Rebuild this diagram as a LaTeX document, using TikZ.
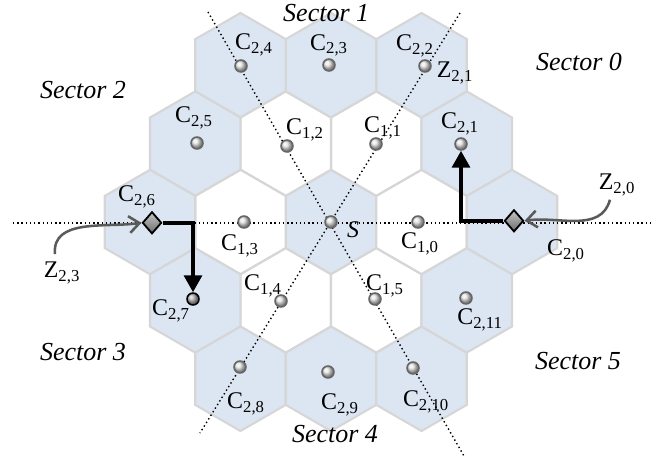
\documentclass[tikz,border=0pt]{standalone}
\usepackage{fontspec}
\setmainfont{Liberation Serif}
\usetikzlibrary{arrows.meta,positioning,shapes.geometric,calc}
\definecolor{hexbg}{HTML}{DCE6F2}
\definecolor{hexbd}{HTML}{D6D6D6}
\definecolor{dotbd}{HTML}{666666}
\definecolor{pointer}{HTML}{5A5A5A}
\newcommand{\cellname}[2]{C\textsubscript{#1,#2}}
\newcommand{\zonename}[2]{Z\textsubscript{#1,#2}}
\tikzset{
  cellhex/.style={regular polygon,regular polygon sides=6,shape border rotate=30,
                  minimum size=2.61cm,inner sep=0pt,draw=hexbd,fill=hexbg,
                  line width=1.5pt},
  innerhex/.style={cellhex,fill=white},
  userdot/.style={circle,minimum size=0.3cm,inner sep=0pt,draw=dotbd,
                  line width=1.1pt,ball color=gray!20},
  zonemark/.style={diamond,minimum width=0.48cm,minimum height=0.55cm,
                   inner sep=0pt,draw=black,line width=1.3pt,
                   top color=gray!45,bottom color=gray!85!black},
  sectorlab/.style={font=\fontsize{18.5}{20}\selectfont\itshape,inner sep=1pt},
  celllab/.style={font=\fontsize{17}{18}\selectfont,inner sep=0.5pt},
  sectorline/.style={dotted,line width=1pt},
  handover/.style={-{Triangle[length=4.2mm,width=4.4mm]},line width=2.8pt},
  pointarrow/.style={-{Straight Barb[length=2.6mm,width=4.2mm]},line width=1.8pt,
                     pointer},
}
\begin{document}
\begin{tikzpicture}
  \useasboundingbox (-8.275,5.55) rectangle (8.375,-5.9);

  % ---- Hexagonal cells ----
  \node[cellhex]  (h0)   at (0,0) {};
  \node[innerhex] (h10)  at (2.263,0) {};
  \node[innerhex] (h11)  at (1.131,1.96) {};
  \node[innerhex] (h12)  at (-1.131,1.96) {};
  \node[innerhex] (h13)  at (-2.263,0) {};
  \node[innerhex] (h14)  at (-1.131,-1.96) {};
  \node[innerhex] (h15)  at (1.131,-1.96) {};
  \node[cellhex]  (h20)  at (4.525,0) {};
  \node[cellhex]  (h21)  at (3.394,1.96) {};
  \node[cellhex]  (h22)  at (2.263,3.92) {};
  \node[cellhex]  (h23)  at (0,3.92) {};
  \node[cellhex]  (h24)  at (-2.263,3.92) {};
  \node[cellhex]  (h25)  at (-3.394,1.96) {};
  \node[cellhex]  (h26)  at (-4.525,0) {};
  \node[cellhex]  (h27)  at (-3.394,-1.96) {};
  \node[cellhex]  (h28)  at (-2.263,-3.92) {};
  \node[cellhex]  (h29)  at (0,-3.92) {};
  \node[cellhex]  (h210) at (2.263,-3.92) {};
  \node[cellhex]  (h211) at (3.394,-1.96) {};

  % ---- Sector borders ----
  \coordinate (hl) at (-7.95,-0.02);
  \coordinate (hr) at (8.0,-0.02);
  \coordinate (aT) at (-3.075,5.25);
  \coordinate (aB) at (3.325,-5.85);
  \coordinate (bT) at (3.225,5.225);
  \coordinate (bB) at (-3.275,-5.275);
  \draw[sectorline] (hl) -- (hr);
  \draw[sectorline] (aT) -- (aB);
  \draw[sectorline] (bT) -- (bB);

  % ---- Sector names ----
  \node[sectorlab] (sec0) at (6.2,4.0) {Sector 0};
  \node[sectorlab] (sec1) at (-0.12,5.22) {Sector 1};
  \node[sectorlab] (sec2) at (-6.2,3.3) {Sector 2};
  \node[sectorlab] (sec3) at (-6.2,-3.25) {Sector 3};
  \node[sectorlab] (sec4) at (0.1,-5.29) {Sector 4};
  \node[sectorlab] (sec5) at (6.175,-3.475) {Sector 5};

  % ---- Cell names ----
  \node[celllab] (l24)  at (-1.925,4.425) {\cellname{2}{4}};
  \node[celllab] (l23)  at (-0.05,4.42) {\cellname{2}{3}};
  \node[celllab] (l22)  at (2.1,4.4) {\cellname{2}{2}};
  \node[celllab] (lz21) at (3.1,3.725) {\zonename{2}{1}};
  \node[celllab] (l25)  at (-3.425,2.6) {\cellname{2}{5}};
  \node[celllab] (l12)  at (-0.65,2.3) {\cellname{1}{2}};
  \node[celllab] (l11)  at (1.3,2.35) {\cellname{1}{1}};
  \node[celllab] (l21)  at (3.225,2.45) {\cellname{2}{1}};
  \node[celllab] (l26)  at (-4.85,0.625) {\cellname{2}{6}};
  \node[celllab] (lz20) at (7.15,0.925) {\zonename{2}{0}};
  \node[celllab] (l13)  at (-2.275,-0.6) {\cellname{1}{3}};
  \node[celllab,font=\fontsize{17}{18}\selectfont\itshape]
    (ls) at (0.55,-0.2) {S};
  \node[celllab] (l10)  at (2.225,-0.55) {\cellname{1}{0}};
  \node[celllab] (l20)  at (5.875,-0.725) {\cellname{2}{0}};
  \node[celllab] (lz23) at (-6.725,-1.275) {\zonename{2}{3}};
  \node[celllab] (l27)  at (-4.0,-2.225) {\cellname{2}{7}};
  \node[celllab] (l14)  at (-1.7,-1.6) {\cellname{1}{4}};
  \node[celllab] (l15)  at (1.35,-1.6) {\cellname{1}{5}};
  \node[celllab] (l211) at (3.725,-2.45) {\cellname{2}{11}};
  \node[celllab] (l28)  at (-2.125,-4.55) {\cellname{2}{8}};
  \node[celllab] (l29)  at (0.225,-4.57) {\cellname{2}{9}};
  \node[celllab] (l210) at (2.375,-4.5) {\cellname{2}{10}};

  % ---- Users in the cells ----
  \node[userdot] (d24)  at (-2.25,3.9) {};
  \node[userdot] (d23)  at (-0.05,3.925) {};
  \node[userdot] (d22)  at (2.35,3.9) {};
  \node[userdot] (d25)  at (-3.35,1.975) {};
  \node[userdot] (d12)  at (-1.1,1.9) {};
  \node[userdot] (d11)  at (1.125,1.95) {};
  \node[userdot] (d21)  at (3.25,1.95) {};
  \node[userdot] (d13)  at (-2.175,0) {};
  \node[userdot] (ds)   at (0,0) {};
  \node[userdot] (d10)  at (2.175,0) {};
  \node[userdot,draw=black,ball color=gray!60]
    (d27) at (-3.45,-1.925) {};
  \node[userdot] (d14)  at (-1.25,-1.975) {};
  \node[userdot] (d15)  at (1.1,-1.925) {};
  \node[userdot] (d211) at (3.375,-1.9) {};
  \node[userdot] (d28)  at (-2.275,-3.625) {};
  \node[userdot] (d29)  at (-0.075,-3.75) {};
  \node[userdot] (d210) at (2.05,-3.65) {};

  % ---- Zone markers and handover paths ----
  \node[zonemark] (mz23) at (-4.475,-0.02) {};
  \node[zonemark] (mz20) at (4.575,0.03) {};
  \draw[handover] (mz20.west) -- (d21 |- mz20) -- (d21.south);
  \draw[handover] (mz23.east) -- (d27 |- mz23) -- (d27.north);

  \draw[pointarrow] ([xshift=-5pt,yshift=5pt]lz23.north)
    to[out=95,in=188] (mz23.west);
  \draw[pointarrow] ([xshift=-5pt,yshift=-2pt]lz20.south)
    to[out=-105,in=8] (mz20.east);
\end{tikzpicture}
\end{document}
